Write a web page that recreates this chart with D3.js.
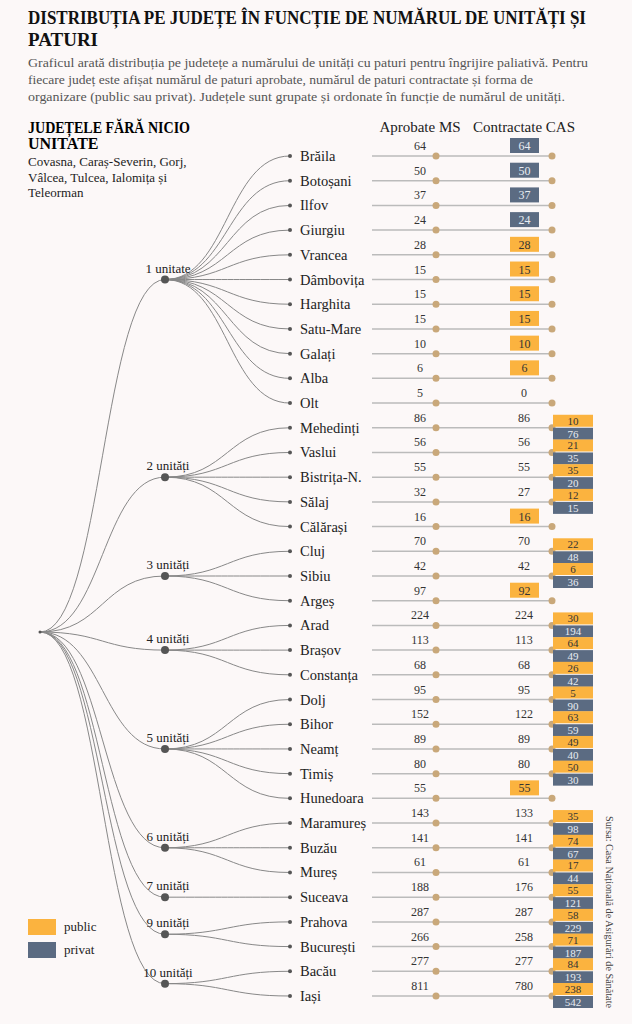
<!DOCTYPE html><html><head><meta charset="utf-8"><script src="https://cdn.jsdelivr.net/npm/d3@7"></script>
<style>body{margin:0;background:#fcf8f8;font-family:"Liberation Serif",serif;}</style></head><body><svg id="c" width="632" height="1024"></svg>
<script>
const groups=["1 unitate","2 unități","3 unități","4 unități","5 unități","6 unități","7 unități","9 unități","10 unități"];
const counties=["Brăila","Botoșani","Ilfov","Giurgiu","Vrancea","Dâmbovița","Harghita","Satu-Mare","Galați","Alba","Olt","Mehedinți","Vaslui","Bistrița-N.","Sălaj","Călărași","Cluj","Sibiu","Argeș","Arad","Brașov","Constanța","Dolj","Bihor","Neamț","Timiș","Hunedoara","Maramureș","Buzău","Mureș","Suceava","Prahova","București","Bacău","Iași"];
const countyGroup=[0,0,0,0,0,0,0,0,0,0,0,1,1,1,1,1,2,2,2,3,3,3,4,4,4,4,4,5,5,5,6,7,7,8,8];
const approved=[64,50,37,24,28,15,15,15,10,6,5,86,56,55,32,16,70,42,97,224,113,68,95,152,89,80,55,143,141,61,188,287,266,277,811];
const contracted=[64,50,37,24,28,15,15,15,10,6,0,86,56,55,27,16,70,42,92,224,113,68,95,122,89,80,55,133,141,61,176,287,258,277,780];
const pub=[0,0,0,0,28,15,15,15,10,6,0,10,21,35,12,16,22,6,92,30,64,26,5,63,49,50,55,35,74,17,55,58,71,84,238];
const priv=[64,50,37,24,0,0,0,0,0,0,0,76,35,20,15,0,48,36,0,194,49,42,90,59,40,30,0,98,67,44,121,229,187,193,542];
const cPub="#fbb33f",cPriv="#5b6b82",cDot="#c9a87a";
const svg=d3.select("#c");
svg.append("text").attr("x",28).attr("y",24).attr("font-size",19).attr("font-weight","bold").attr("fill","#111").attr("textLength",558).attr("lengthAdjust","spacingAndGlyphs").text("DISTRIBUȚIA PE JUDEȚE ÎN FUNCȚIE DE NUMĂRUL DE UNITĂȚI ȘI");
svg.append("text").attr("x",28).attr("y",46).attr("font-size",19).attr("font-weight","bold").attr("fill","#111").text("PATURI");
[["Graficul arată distribuția pe judetețe a numărului de unități cu paturi pentru îngrijire paliativă. Pentru",560],["fiecare județ este afișat numărul de paturi aprobate, numărul de paturi contractate și forma de",505],["organizare (public sau privat). Județele sunt grupate și ordonate în funcție de numărul de unități.",537]].forEach((t,i)=>
svg.append("text").attr("x",28).attr("y",67+i*17).attr("font-size",13.5).attr("fill","#555").attr("textLength",t[1]).attr("lengthAdjust","spacingAndGlyphs").text(t[0]));
svg.append("text").attr("x",28).attr("y",133).attr("font-size",16).attr("font-weight","bold").attr("textLength",162).attr("lengthAdjust","spacingAndGlyphs").text("JUDEȚELE FĂRĂ NICIO");
svg.append("text").attr("x",28).attr("y",149).attr("font-size",16).attr("font-weight","bold").text("UNITATE");
["Covasna, Caraș-Severin, Gorj,","Vâlcea, Tulcea, Ialomița și","Teleorman"].forEach((t,i)=>svg.append("text").attr("x",28).attr("y",166+i*15.5).attr("font-size",13).attr("fill","#222").text(t));
svg.append("text").attr("x",420).attr("y",132).attr("text-anchor","middle").attr("font-size",15).attr("fill","#222").text("Aprobate MS");
svg.append("text").attr("x",524).attr("y",132).attr("text-anchor","middle").attr("font-size",15).attr("fill","#222").text("Contractate CAS");
const y=d3.scalePoint().domain(counties).range([156,996]);
const x=d3.scaleLinear().domain([0,1]).range([372,552]);
const rootX=40,rootY=632,gX=165,leafX=290;
const gy=groups.map((g,i)=>d3.mean(counties.filter((c,j)=>countyGroup[j]===i),c=>y(c)));
const link=d3.linkHorizontal().x(d=>d[0]).y(d=>d[1]);
groups.forEach((g,i)=>svg.append("path").attr("d",link({source:[rootX,rootY],target:[gX,gy[i]]})).attr("fill","none").attr("stroke","#888").attr("stroke-width",1));
counties.forEach((c,j)=>svg.append("path").attr("d",link({source:[gX,gy[countyGroup[j]]],target:[leafX,y(c)]})).attr("fill","none").attr("stroke","#888").attr("stroke-width",1));
groups.forEach((g,i)=>{svg.append("circle").attr("cx",gX).attr("cy",gy[i]).attr("r",4).attr("fill","#555");
svg.append("text").attr("x",gX+3).attr("y",gy[i]-7).attr("text-anchor","middle").attr("font-size",13).attr("fill","#222").text(g);});
svg.append("circle").attr("cx",rootX).attr("cy",rootY).attr("r",1.5).attr("fill","#555");
counties.forEach((c,j)=>{const yy=y(c);
svg.append("circle").attr("cx",leafX).attr("cy",yy).attr("r",2).attr("fill","#555");
svg.append("text").attr("x",leafX+10).attr("y",yy+5).attr("font-size",14.5).attr("fill","#222").text(c);
svg.append("line").attr("x1",x(0)).attr("x2",x(1)).attr("y1",yy).attr("y2",yy).attr("stroke","#bbb").attr("stroke-width",1.5);
svg.append("circle").attr("cx",436).attr("cy",yy).attr("r",3.5).attr("fill",cDot);
svg.append("circle").attr("cx",x(1)).attr("cy",yy).attr("r",3.5).attr("fill",cDot);
svg.append("text").attr("x",420).attr("y",yy-6).attr("text-anchor","middle").attr("font-size",12).attr("fill","#333").text(approved[j]);
const both=pub[j]>0&&priv[j]>0;
if(both){
 svg.append("text").attr("x",524).attr("y",yy-6).attr("text-anchor","middle").attr("font-size",12).attr("fill","#333").text(contracted[j]);
 svg.append("rect").attr("x",553).attr("y",yy-13).attr("width",40).attr("height",12).attr("fill",cPub);
 svg.append("text").attr("x",573).attr("y",yy-3).attr("text-anchor","middle").attr("font-size",11).attr("fill","#333").text(pub[j]);
 svg.append("rect").attr("x",553).attr("y",yy).attr("width",40).attr("height",12).attr("fill",cPriv);
 svg.append("text").attr("x",573).attr("y",yy+10).attr("text-anchor","middle").attr("font-size",11).attr("fill","#e8ecf2").text(priv[j]);
}else if(contracted[j]>0){
 const p=pub[j]>0;
 svg.append("rect").attr("x",510).attr("y",yy-18).attr("width",29).attr("height",15).attr("fill",p?cPub:cPriv);
 svg.append("text").attr("x",524.5).attr("y",yy-6).attr("text-anchor","middle").attr("font-size",12).attr("fill",p?"#333":"#e8ecf2").text(contracted[j]);
}else{
 svg.append("text").attr("x",524).attr("y",yy-6).attr("text-anchor","middle").attr("font-size",12).attr("fill","#333").text(contracted[j]);
}});
[["public",cPub,927],["privat",cPriv,950]].forEach(d=>{svg.append("rect").attr("x",28).attr("y",d[2]-8).attr("width",28).attr("height",16).attr("fill",d[1]);
svg.append("text").attr("x",64).attr("y",d[2]+4).attr("font-size",13).attr("fill","#222").text(d[0]);});
svg.append("text").attr("transform","translate(606,816) rotate(90)").attr("font-size",11).attr("fill","#444").attr("textLength",192).attr("lengthAdjust","spacingAndGlyphs").text("Sursa: Casa Națională de Asigurări de Sănătate");
</script></body></html>
